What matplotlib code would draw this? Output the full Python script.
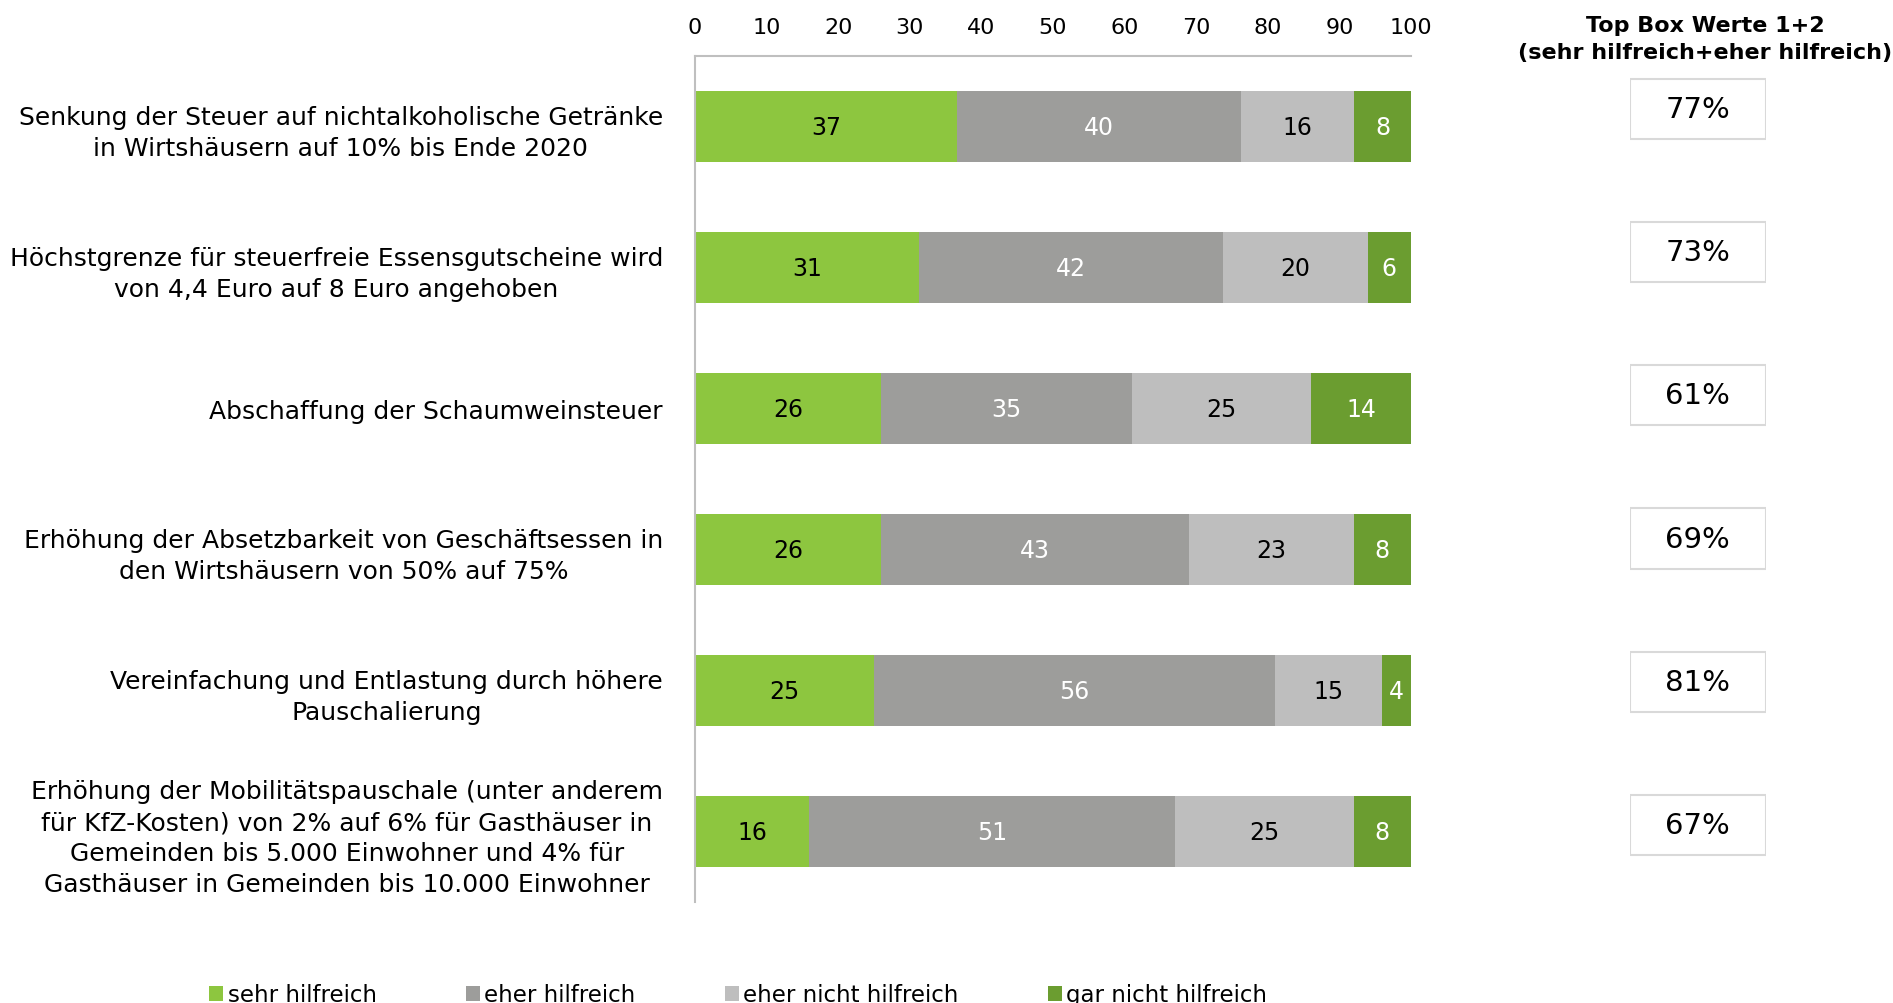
"""
Gestapeltes 100%-Balkendiagramm mit Top-Box-Werten rechts daneben
"""

import numpy as np
import matplotlib.pyplot as plt
from matplotlib.patches import Rectangle

plt.rcParams['font.family'] = ['DejaVu Sans']

categories = [
    "Senkung der Steuer auf nichtalkoholische Getränke\nin Wirtshäusern auf 10% bis Ende 2020",
    "Höchstgrenze für steuerfreie Essensgutscheine wird\nvon 4,4 Euro auf 8 Euro angehoben",
    "Abschaffung der Schaumweinsteuer",
    "Erhöhung der Absetzbarkeit von Geschäftsessen in\nden Wirtshäusern von 50% auf 75%",
    "Vereinfachung und Entlastung durch höhere\nPauschalierung",
    "Erhöhung der Mobilitätspauschale (unter anderem\nfür KfZ-Kosten) von 2% auf 6% für Gasthäuser in\n"
    "Gemeinden bis 5.000 Einwohner und 4% für\nGasthäuser in Gemeinden bis 10.000 Einwohner",
]

series_names = ["sehr hilfreich", "eher hilfreich", "eher nicht hilfreich", "gar nicht hilfreich"]
sehr_hilfreich = [37, 31, 26, 26, 25, 16]
eher_hilfreich = [40, 42, 35, 43, 56, 51]
eher_nicht_hilfreich = [16, 20, 25, 23, 15, 25]
gar_nicht_hilfreich = [8, 6, 14, 8, 4, 8]

colors = ["#8DC63F", "#9D9D9B", "#BEBEBE", "#6B9D30"]
text_colors = ["black", "white", "black", "white"]

data = np.array([sehr_hilfreich, eher_hilfreich, eher_nicht_hilfreich, gar_nicht_hilfreich], dtype=float)
# auf 100% je Zeile normieren
shares = data / data.sum(axis=0) * 100
top_box = data[0] + data[1]

fig = plt.figure(figsize=(18.93, 10.04), dpi=100)
ax = fig.add_axes([0.3671, 0.1006, 0.3783, 0.8426])

y = np.arange(len(categories))
left = np.zeros(len(categories))
for k in range(4):
    bars = ax.barh(y, shares[k], left=left, height=0.5, color=colors[k],
                   label=series_names[k], edgecolor="none")
    for i, b in enumerate(bars):
        ax.text(left[i] + shares[k][i] / 2, y[i], "%d" % data[k][i],
                ha="center", va="center", fontsize=17, color=text_colors[k])
    left += shares[k]

ax.set_xlim(0, 100)
ax.set_ylim(len(categories) - 0.5, -0.5)
ax.set_xticks(np.arange(0, 101, 10))
ax.xaxis.tick_top()
ax.tick_params(axis="x", length=0, pad=14, labelsize=16)
ax.tick_params(axis="y", length=0, pad=23)
ax.set_yticks(y)
ax.set_yticklabels(categories, fontsize=18, multialignment="center", linespacing=1.38)
for s in ["right", "bottom"]:
    ax.spines[s].set_visible(False)
ax.spines["top"].set_color("#BFBFBF")
ax.spines["left"].set_color("#BFBFBF")
ax.spines["top"].set_linewidth(1.5)
ax.spines["left"].set_linewidth(1.5)

# Top-Box-Spalte
fig.text(0.9006, 0.961, "Top Box Werte 1+2\n(sehr hilfreich+eher hilfreich)",
         ha="center", va="center", fontsize=16, fontweight="bold", linespacing=1.45)
ax_box = fig.add_axes([0.861, 0.106, 0.0718, 0.8558])
ax_box.set_xlim(0, 1)
ax_box.set_ylim(len(categories) - 0.5, -0.5)
ax_box.axis("off")
box_h = 0.42
for i, v in enumerate(top_box):
    ax_box.add_patch(Rectangle((0, i - box_h / 2), 1, box_h, facecolor="white",
                               edgecolor="#D9D9D9", linewidth=1.5))
    ax_box.text(0.5, i, "%d%%" % v, ha="center", va="center", fontsize=21)

fig.legend(loc="center", bbox_to_anchor=(0.39, 0.008), ncol=4, frameon=False,
           fontsize=16.5, handlelength=0.6, handleheight=0.6, handletextpad=0.2,
           columnspacing=3.9)

plt.savefig("out.png", dpi=100)
